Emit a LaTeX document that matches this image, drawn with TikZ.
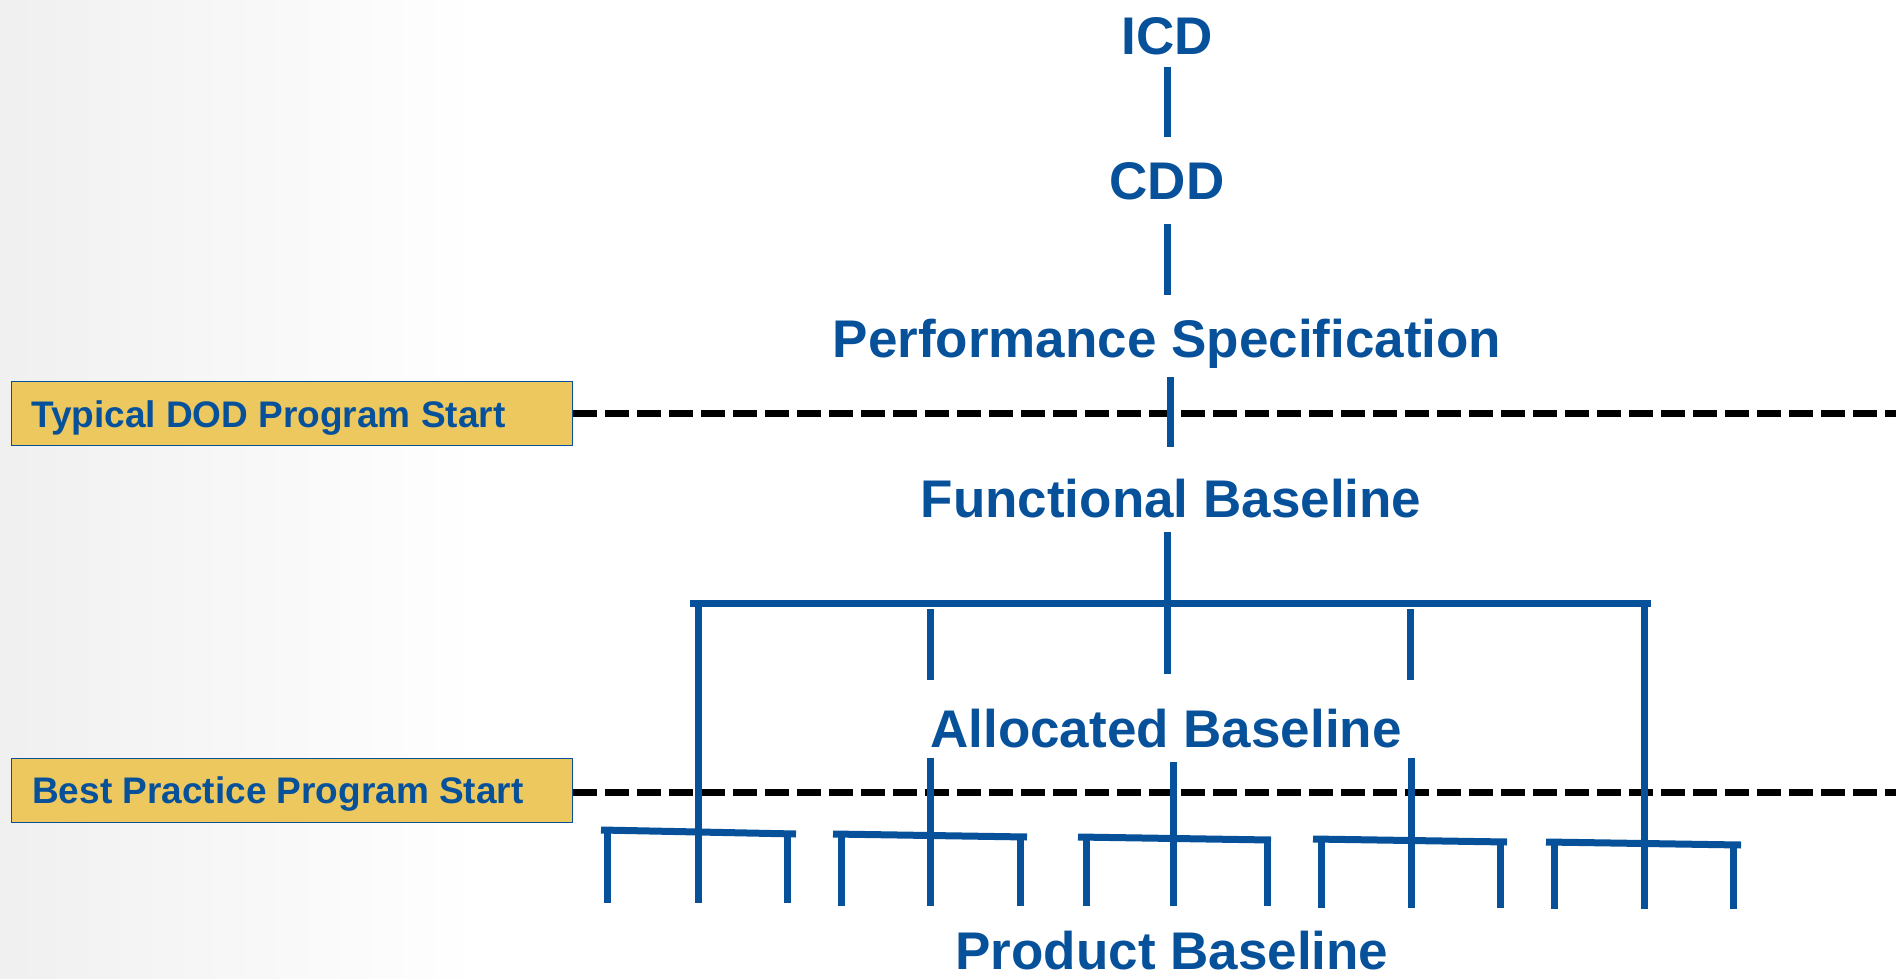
\documentclass[tikz,border=0pt]{standalone}
\usepackage{fontspec}
\setmainfont{Liberation Sans}
\definecolor{dblue}{HTML}{07519A}
\definecolor{boxfill}{HTML}{ECC85F}
\begin{document}
\begin{tikzpicture}[x=1pt,y=-1pt,
  lbl/.style={anchor=base, inner sep=0pt, text=dblue, font=\fontsize{53}{60}\selectfont\bfseries},
  boxlbl/.style={anchor=base west, inner sep=0pt, text=dblue, font=\fontsize{37}{40}\selectfont\bfseries},
  startbox/.style={draw=dblue, line width=1.2pt, fill=boxfill, anchor=north west, inner sep=0pt, minimum width=561pt, minimum height=64pt},
  tree/.style={draw=dblue, line width=7pt},
  gate/.style={draw=black, line width=7pt, dash pattern=on 24pt off 8pt}]
\useasboundingbox (0,0) rectangle (1896,979);
% faint background watermark
\fill[left color=black!6, right color=white, draw=none] (0,0) rectangle (480,979);

% main labels
\node[lbl] (icd) at (1167,55) {ICD};
\node[lbl] (cdd) at (1167,200) {CDD};
\node[lbl] (perf) at (1167,357) {Performance Specification};
\node[lbl] (func) at (1171,517) {Functional Baseline};
\node[lbl] (alloc) at (1166,747) {Allocated Baseline};
\node[lbl] (prod) at (1172,969) {Product Baseline};

% program start boxes
\node[startbox] (typbox) at (11,381) {};
\node[boxlbl] (typtxt) at (31,427) {Typical DOD Program Start};
\node[startbox] (bestbox) at (11,758) {};
\node[boxlbl] (besttxt) at (32,803) {Best Practice Program Start};

% dashed program start lines
\coordinate (typend) at (1896,413);
\coordinate (bestend) at (1896,792);
\draw[gate] (typbox.east |- typend) -- (typend);
\draw[gate] (bestbox.east |- bestend) -- (bestend);

% upper chain
\coordinate (c1a) at (1167,67);  \coordinate (c1b) at (1167,137);
\coordinate (c2a) at (1167,224); \coordinate (c2b) at (1167,295);
\coordinate (c3a) at (1170,377); \coordinate (c3b) at (1170,447);
\coordinate (c4a) at (1167,532); \coordinate (c4b) at (1167,674);
\draw[tree] (c1a) -- (c1b);
\draw[tree] (c2a) -- (c2b);
\draw[tree] (c3a) -- (c3b);
\draw[tree] (c4a) -- (c4b);

% functional bar
\coordinate (barL) at (690,603); \coordinate (barR) at (1651,603);
\draw[tree] (barL) -- (barR);
\coordinate (lgL) at (698,603);  \coordinate (lgLb) at (698,832);
\coordinate (lgR) at (1644,603); \coordinate (lgRb) at (1644,843);
\draw[tree] (lgL) -- (lgLb);
\draw[tree] (lgR) -- (lgRb);
\draw[tree] (930,609) -- (930,680);
\draw[tree] (1410,609) -- (1410,680);

% allocated to product links
\draw[tree] (930,758) -- (930,835);
\draw[tree] (1173,762) -- (1173,838);
\draw[tree] (1411,758) -- (1411,840);

% product groups: left x, left y, right x, right y, v1, v2, v3, bottom
\foreach \lx/\ly/\rx/\ry/\va/\vb/\vc/\bt in {
  601/830/796/834/607/698/787/903,
  833/834/1027/837/841/930/1020/906,
  1078/837/1271/840/1086/1173/1267/906,
  1313/839/1507/842/1321/1411/1500/908,
  1546/842/1741/845/1554/1644/1733/909}{
  \draw[tree] (\lx,\ly) -- (\rx,\ry);
  \draw[tree] (\va,\ly) -- (\va,\bt);
  \draw[tree] (\vb,{(\ly+\ry)/2}) -- (\vb,\bt);
  \draw[tree] (\vc,\ry) -- (\vc,\bt);
}
\end{tikzpicture}
\end{document}
